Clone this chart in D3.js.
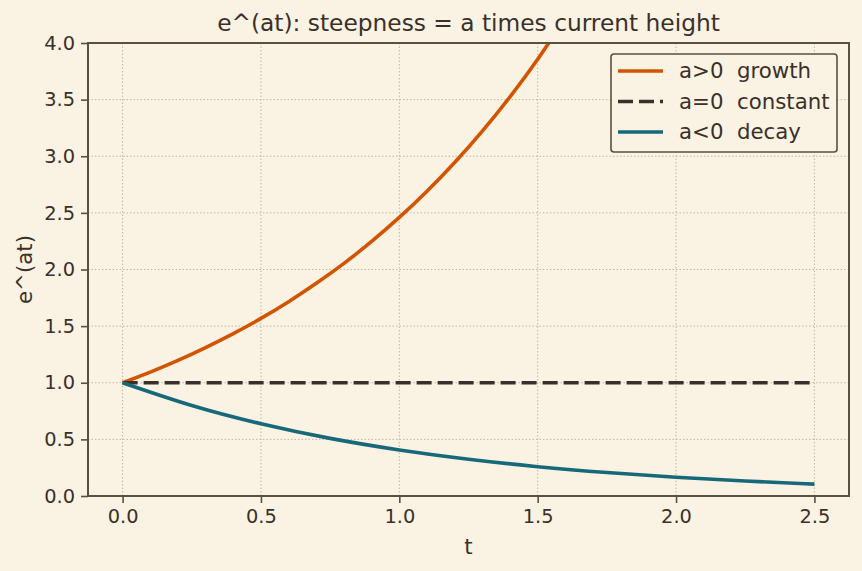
<!DOCTYPE html>
<html>
<head>
<meta charset="utf-8">
<script src="https://cdn.jsdelivr.net/npm/d3@7"></script>
<style>
  body { margin: 0; background: #faf3e4; }
  text { font-family: "DejaVu Sans", sans-serif; fill: #3a3029; white-space: pre; }
</style>
</head>
<body>
<svg id="chart" width="862" height="571"></svg>
<script>
// values
const tGrowth = [0, 0.1, 0.2, 0.3, 0.4, 0.5, 0.6, 0.7, 0.8, 0.9, 1.0, 1.1, 1.2, 1.3, 1.4, 1.5, 1.6]
const growth  = [1.000, 1.094, 1.197, 1.310, 1.433, 1.568, 1.716, 1.878, 2.054, 2.248, 2.460, 2.691, 2.945, 3.222, 3.525, 3.857, 4.221]
const tConst  = [0, 2.5]
const constant = [1.0, 1.0]
const tDecay  = [0, 0.25, 0.5, 0.75, 1.0, 1.25, 1.5, 1.75, 2.0, 2.25, 2.5]
const decay   = [1.000, 0.799, 0.638, 0.509, 0.407, 0.325, 0.259, 0.207, 0.165, 0.132, 0.105]
const xTicks = [0, 0.5, 1.0, 1.5, 2.0, 2.5]
const yTicks = [0, 0.5, 1.0, 1.5, 2.0, 2.5, 3.0, 3.5, 4.0]
const seriesNames = ['a>0  growth', 'a=0  constant', 'a<0  decay']

let svg = d3.select('#chart')
let margin = {left: 88, right: 13, top: 43, bottom: 75}
let width = 862
let height = 571
let ink = '#3a3029'
let spine = '#5b4f40'

let x = d3.scaleLinear().domain([-0.125, 2.625]).range([margin.left, width - margin.right])
let y = d3.scaleLinear().domain([0, 4]).range([height - margin.bottom, margin.top])

svg.append('rect').attr('width', width).attr('height', height).attr('fill', '#faf3e4')

// grid
let grid = svg.append('g')
grid.selectAll('.gx').data(xTicks).enter().append('line')
  .attr('x1', d => x(d)).attr('x2', d => x(d))
  .attr('y1', y(4)).attr('y2', y(0))
  .attr('stroke', '#b9ae9d').attr('stroke-width', 0.9).attr('stroke-dasharray', '1.5,2')
grid.selectAll('.gy').data(yTicks).enter().append('line')
  .attr('y1', d => y(d)).attr('y2', d => y(d))
  .attr('x1', x.range()[0]).attr('x2', x.range()[1])
  .attr('stroke', '#b9ae9d').attr('stroke-width', 0.9).attr('stroke-dasharray', '1.5,2')

svg.append('clipPath').attr('id', 'clip').append('rect')
  .attr('x', x.range()[0]).attr('y', y(4))
  .attr('width', x.range()[1] - x.range()[0]).attr('height', y(0) - y(4))

let line = d3.line().x(d => x(d[0])).y(d => y(d[1])).curve(d3.curveNatural)

let series = [
  {name: seriesNames[0], pts: d3.zip(tGrowth, growth), color: '#d35400', dash: null},
  {name: seriesNames[1], pts: d3.zip(tConst, constant), color: '#3a2f29', dash: '15,6'},
  {name: seriesNames[2], pts: d3.zip(tDecay, decay), color: '#17697a', dash: null}
]

let plot = svg.append('g').attr('clip-path', 'url(#clip)')
plot.selectAll('path').data(series).enter().append('path')
  .attr('d', d => line(d.pts))
  .attr('fill', 'none')
  .attr('stroke', d => d.color)
  .attr('stroke-width', 3.6)
  .attr('stroke-dasharray', d => d.dash)

// axes
let xAxis = svg.append('g').attr('transform', 'translate(0,' + y(0) + ')')
  .call(d3.axisBottom(x).tickValues(xTicks).tickFormat(d3.format('.1f')).tickSizeOuter(0).tickSize(7).tickPadding(6))
let yAxis = svg.append('g').attr('transform', 'translate(' + x.range()[0] + ',0)')
  .call(d3.axisLeft(y).tickValues(yTicks).tickFormat(d3.format('.1f')).tickSizeOuter(0).tickSize(7).tickPadding(6))
svg.selectAll('.domain').remove()
svg.selectAll('.tick line').attr('stroke', spine).attr('stroke-width', 1.6)
svg.selectAll('.tick text').style('font-family', '"DejaVu Sans", sans-serif').style('font-size', '19.4px').attr('fill', ink)

// spines
svg.append('rect')
  .attr('x', x.range()[0]).attr('y', y(4))
  .attr('width', x.range()[1] - x.range()[0]).attr('height', y(0) - y(4))
  .attr('fill', 'none').attr('stroke', spine).attr('stroke-width', 2)

// labels
svg.append('text').attr('x', (x.range()[0] + x.range()[1]) / 2).attr('y', 31)
  .attr('text-anchor', 'middle').style('font-size', '23.3px')
  .text('e^(at): steepness = a times current height')
svg.append('text').attr('x', (x.range()[0] + x.range()[1]) / 2).attr('y', 554)
  .attr('text-anchor', 'middle').style('font-size', '21.3px').text('t')
svg.append('text').attr('transform', 'translate(32,' + (y(0) + y(4)) / 2 + ') rotate(-90)')
  .attr('text-anchor', 'middle').style('font-size', '21.3px').text('e^(at)')

// legend
let legend = svg.append('g').attr('transform', 'translate(611,54)')
legend.append('rect').attr('width', 226).attr('height', 98).attr('rx', 3)
  .attr('fill', '#faf3e4').attr('stroke', spine).attr('stroke-width', 1.6)
let items = legend.selectAll('.item').data(series).enter().append('g')
  .attr('transform', (d, i) => 'translate(0,' + (17 + i * 30.5) + ')')
items.append('line').attr('x1', 7).attr('x2', 52)
  .attr('stroke', d => d.color).attr('stroke-width', 3.6)
  .attr('stroke-dasharray', d => d.dash)
items.append('text').attr('x', 68).attr('dy', '0.35em').style('font-size', '21.3px').text(d => d.name)
</script>
</body>
</html>
